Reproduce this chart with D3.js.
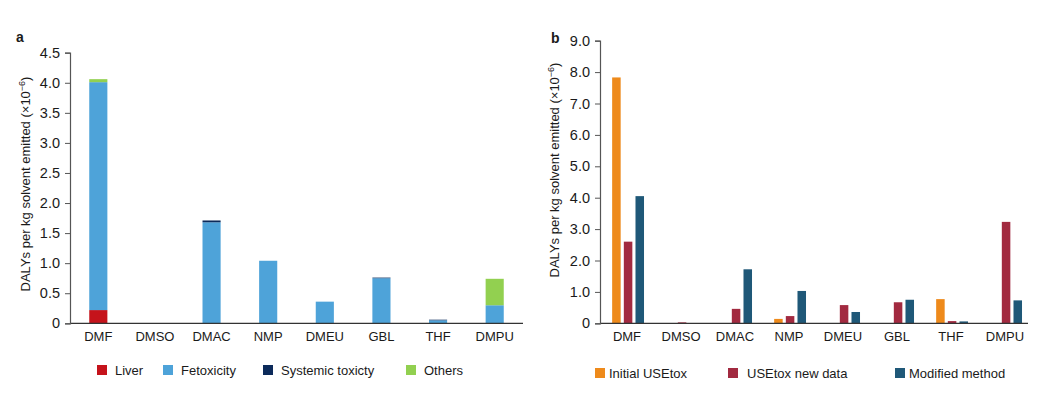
<!DOCTYPE html>
<html>
<head>
<meta charset="utf-8">
<script src="https://cdn.jsdelivr.net/npm/d3@7"></script>
<style>
  body { margin: 0; background: #fff; }
  text { font-family: "Liberation Sans", Arial, sans-serif; fill: #1a1a1a; }
</style>
</head>
<body>
<script>
const solvents = ["DMF", "DMSO", "DMAC", "NMP", "DMEU", "GBL", "THF", "DMPU"];

// panel a, stacked (x10^-6 DALYs per kg)
const liver = [0.22, 0, 0, 0, 0, 0, 0, 0];
const fetoxicity = [3.79, 0.005, 1.68, 1.04, 0.36, 0.75, 0.05, 0.30];
const systemic = [0, 0, 0.03, 0, 0, 0.01, 0.01, 0];
const others = [0.05, 0, 0, 0, 0, 0, 0, 0.44];
const ticksA = [0, 0.5, 1.0, 1.5, 2.0, 2.5, 3.0, 3.5, 4.0, 4.5];

// panel b, grouped
const initialUSEtox = [7.83, 0, 0, 0.14, 0, 0, 0.77, 0];
const newData = [2.60, 0.03, 0.46, 0.23, 0.58, 0.67, 0.07, 3.23];
const modified = [4.05, 0, 1.72, 1.03, 0.36, 0.75, 0.06, 0.73];
const ticksB = [0, 1, 2, 3, 4, 5, 6, 7, 8, 9];

const W = 1042, H = 394;
const svg = d3.select("body").append("svg").attr("width", W).attr("height", H);

let drawAxes = (g, x, y, ticks, fmt, x0, x1) => {
  g.append("line").attr("x1", x0).attr("x2", x1)
    .attr("y1", y(0)).attr("y2", y(0))
    .attr("stroke", "#333").attr("stroke-width", 1.2);
  let ya = g.append("g").attr("transform", `translate(${x0},0)`)
    .call(d3.axisLeft(y).tickValues(ticks).tickFormat(fmt).tickSize(5).tickPadding(5));
  ya.select(".domain").attr("stroke", "#555").attr("stroke-width", 1.2);
  ya.selectAll(".tick line").attr("stroke", "#555");
  ya.selectAll("text").style("font-size", "14.5px").attr("fill", "#1a1a1a");
  g.selectAll(".xlab").data(solvents).join("text")
    .attr("x", d => x(d) + x.bandwidth() / 2)
    .attr("y", y(0) + 18)
    .attr("text-anchor", "middle")
    .style("font-size", "13px")
    .text(d => d);
};

let yTitle = (g, cx, cy) => {
  let t = g.append("text")
    .attr("transform", `translate(${cx},${cy}) rotate(-90)`)
    .attr("text-anchor", "middle")
    .style("font-size", "13px");
  t.append("tspan").text("DALYs per kg solvent emitted (×10");
  t.append("tspan").attr("dy", -5).style("font-size", "9px").text("−6");
  t.append("tspan").attr("dy", 5).text(")");
};

let legend = (g, items, y) => {
  items.forEach(it => {
    g.append("rect").attr("x", it.sx).attr("y", y - 5)
      .attr("width", 10).attr("height", 10).attr("fill", it.color);
    g.append("text").attr("x", it.tx).attr("y", y + 4.5)
      .style("font-size", "13px").text(it.name);
  });
};

// ---- panel a
const ga = svg.append("g");
const xA = d3.scaleBand().domain(solvents).range([70, 523]).paddingInner(0.68).paddingOuter(0.34);
const yA = d3.scaleLinear().domain([0, 4.5]).range([323.3, 52.7]);

const keysA = ["liver", "fetoxicity", "systemic", "others"];
const colorsA = { liver: "#c5131b", fetoxicity: "#4ea3d9", systemic: "#0c2a5a", others: "#92d050" };
const rowsA = solvents.map((s, i) => ({
  name: s, liver: liver[i], fetoxicity: fetoxicity[i], systemic: systemic[i], others: others[i]
}));
const stacked = d3.stack().keys(keysA)(rowsA);

ga.selectAll(".layer").data(stacked).join("g")
  .attr("fill", d => colorsA[d.key])
  .selectAll("rect").data(d => d).join("rect")
  .attr("x", d => xA(d.data.name))
  .attr("width", xA.bandwidth())
  .attr("y", d => yA(d[1]))
  .attr("height", d => Math.max(0, yA(d[0]) - yA(d[1])));

drawAxes(ga, xA, yA, ticksA, d => d === 0 ? "0" : d3.format(".1f")(d), 70, 523);
yTitle(ga, 30, 184);
ga.append("text").attr("x", 16).attr("y", 42).style("font-size", "14px")
  .style("font-weight", "bold").text("a");
legend(ga, [
  { name: "Liver", color: colorsA.liver, sx: 97, tx: 115 },
  { name: "Fetoxicity", color: colorsA.fetoxicity, sx: 163, tx: 181 },
  { name: "Systemic toxicty", color: colorsA.systemic, sx: 263, tx: 281 },
  { name: "Others", color: colorsA.others, sx: 406, tx: 424 }
], 370);

// ---- panel b
const gb = svg.append("g");
const xB = d3.scaleBand().domain(solvents).range([600, 1032]).padding(0);
const yB = d3.scaleLinear().domain([0, 9]).range([323.3, 40.7]);
const keysB = ["initial", "newdata", "modified"];
const colorsB = { initial: "#ee8a1b", newdata: "#a22a40", modified: "#1f5878" };
const seriesB = { initial: initialUSEtox, newdata: newData, modified: modified };
const xInner = d3.scaleBand().domain(keysB)
  .range([xB.bandwidth() * 0.225, xB.bandwidth() * 0.815]).paddingInner(0.27);

gb.selectAll(".grp").data(solvents).join("g")
  .attr("transform", d => `translate(${xB(d)},0)`)
  .selectAll("rect")
  .data((d, i) => keysB.map(k => ({ key: k, value: seriesB[k][i] })))
  .join("rect")
  .attr("x", d => xInner(d.key))
  .attr("width", xInner.bandwidth())
  .attr("y", d => yB(d.value))
  .attr("height", d => yB(0) - yB(d.value))
  .attr("fill", d => colorsB[d.key]);

drawAxes(gb, xB, yB, ticksB, d => d === 0 ? "0" : d3.format(".1f")(d), 600, 1028);
yTitle(gb, 559, 170);
gb.append("text").attr("x", 551).attr("y", 43).style("font-size", "14px")
  .style("font-weight", "bold").text("b");
legend(gb, [
  { name: "Initial USEtox", color: colorsB.initial, sx: 595, tx: 609 },
  { name: "USEtox new data", color: colorsB.newdata, sx: 728, tx: 747 },
  { name: "Modified method", color: colorsB.modified, sx: 895, tx: 909 }
], 373);
</script>
</body>
</html>
